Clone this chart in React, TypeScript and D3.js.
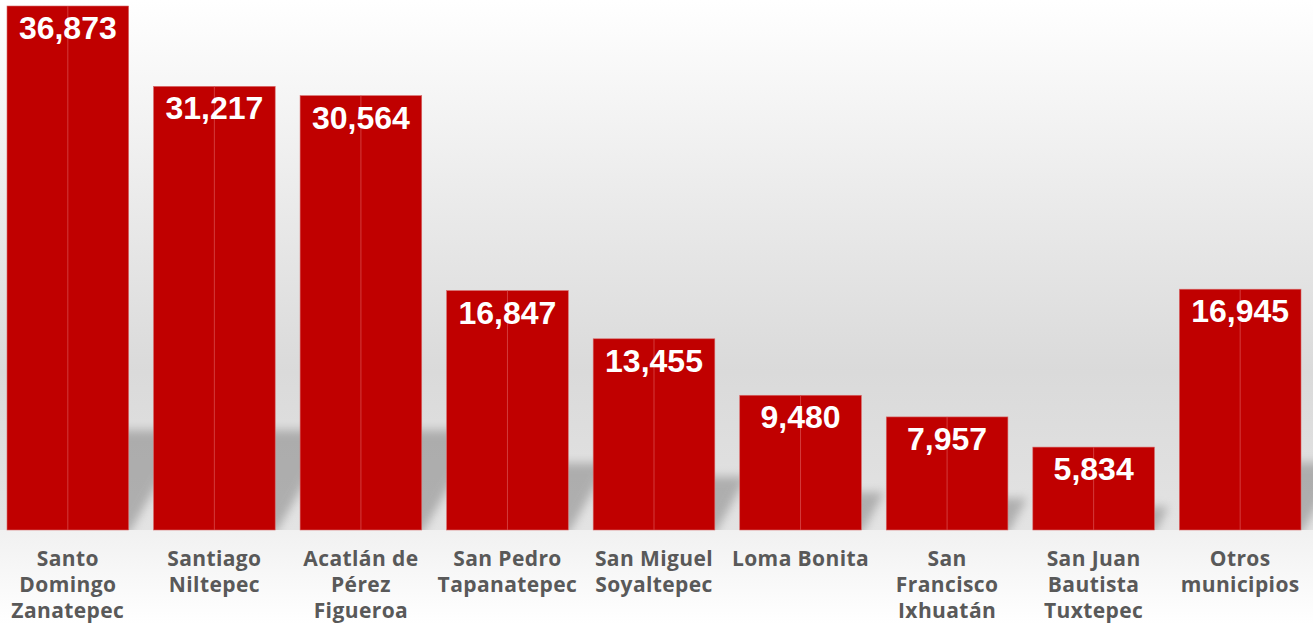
import React from "react";
import * as d3 from "d3";

const categories: string[] = [
  "Santo Domingo Zanatepec",
  "Santiago Niltepec",
  "Acatlán de Pérez Figueroa",
  "San Pedro Tapanatepec",
  "San Miguel Soyaltepec",
  "Loma Bonita",
  "San Francisco Ixhuatán",
  "San Juan Bautista Tuxtepec",
  "Otros municipios",
];

const values: number[] = [36873, 31217, 30564, 16847, 13455, 9480, 7957, 5834, 16945];

const labelLines: string[][] = [
  ["Santo", "Domingo", "Zanatepec"],
  ["Santiago", "Niltepec"],
  ["Acatlán de", "Pérez", "Figueroa"],
  ["San Pedro", "Tapanatepec"],
  ["San Miguel", "Soyaltepec"],
  ["Loma Bonita"],
  ["San", "Francisco", "Ixhuatán"],
  ["San Juan", "Bautista", "Tuxtepec"],
  ["Otros", "municipios"],
];

const W = 1313;
const H = 624;
const BASE = 530;

export default function App() {
  const x = d3.scaleBand<string>().domain(categories).range([7, 1301]).paddingInner(0.17).paddingOuter(0);
  const y = d3.scaleLinear().domain([0, 36873]).range([BASE, 6]);
  const fmt = d3.format(",");
  const bw = x.bandwidth();

  return (
    <svg width={W} height={H} style={{ position: "fixed", top: 0, left: 0 }}>
      <defs>
        <linearGradient id="wall" x1="0" y1="0" x2="0" y2="1">
          <stop offset="0" stopColor="#ffffff" />
          <stop offset="0.35" stopColor="#ececec" />
          <stop offset="0.7" stopColor="#dadada" />
          <stop offset="1" stopColor="#e3e3e3" />
        </linearGradient>
        <linearGradient id="floor" x1="0" y1="0" x2="0" y2="1">
          <stop offset="0" stopColor="#f1f1f1" />
          <stop offset="1" stopColor="#ffffff" />
        </linearGradient>
        <filter id="blur" x="-50%" y="-50%" width="200%" height="200%">
          <feGaussianBlur stdDeviation="5" />
        </filter>
        <clipPath id="wallClip">
          <rect x={0} y={0} width={W} height={BASE} />
        </clipPath>
      </defs>
      <rect x={0} y={0} width={W} height={BASE} fill="url(#wall)" />
      <rect x={0} y={BASE} width={W} height={H - BASE} fill="url(#floor)" />
      <g clipPath="url(#wallClip)">
        <g filter="url(#blur)" opacity={0.55}>
          {categories.map((c, i) => {
            const x0 = x(c)!;
            const h = Math.min((BASE - y(values[i])) * 0.28, 100);
            const s = h * 0.6;
            return (
              <path
                key={c}
                d={`M${x0 + 10},${BASE + 4} L${x0 + bw},${BASE + 4} L${x0 + bw + s},${BASE - h} L${x0 + 10 + s},${BASE - h} Z`}
                fill="#858585"
              />
            );
          })}
        </g>
      </g>
      {categories.map((c, i) => {
        const x0 = x(c)!;
        const top = y(values[i]);
        return (
          <g key={c}>
            <rect x={x0} y={top} width={bw} height={BASE - top} fill="#C00000" stroke="#d86a6a" strokeWidth={0.6} />
            <line x1={x0 + bw / 2} x2={x0 + bw / 2} y1={top} y2={BASE} stroke="#d84a4a" strokeWidth={0.8} />
            <text
              x={x0 + bw / 2}
              y={top + 33}
              textAnchor="middle"
              fill="#ffffff"
              fontFamily="'Liberation Sans', Arial, sans-serif"
              fontWeight={700}
              fontSize={32}
            >
              {fmt(values[i])}
            </text>
            <text
              textAnchor="middle"
              fill="#595959"
              fontFamily="'Open Sans', sans-serif"
              fontWeight={700}
              fontSize={21}
              letterSpacing={0.4}
            >
              {labelLines[i].map((ln, j) => (
                <tspan key={j} x={x0 + bw / 2} y={566 + j * 26}>
                  {ln}
                </tspan>
              ))}
            </text>
          </g>
        );
      })}
    </svg>
  );
}
